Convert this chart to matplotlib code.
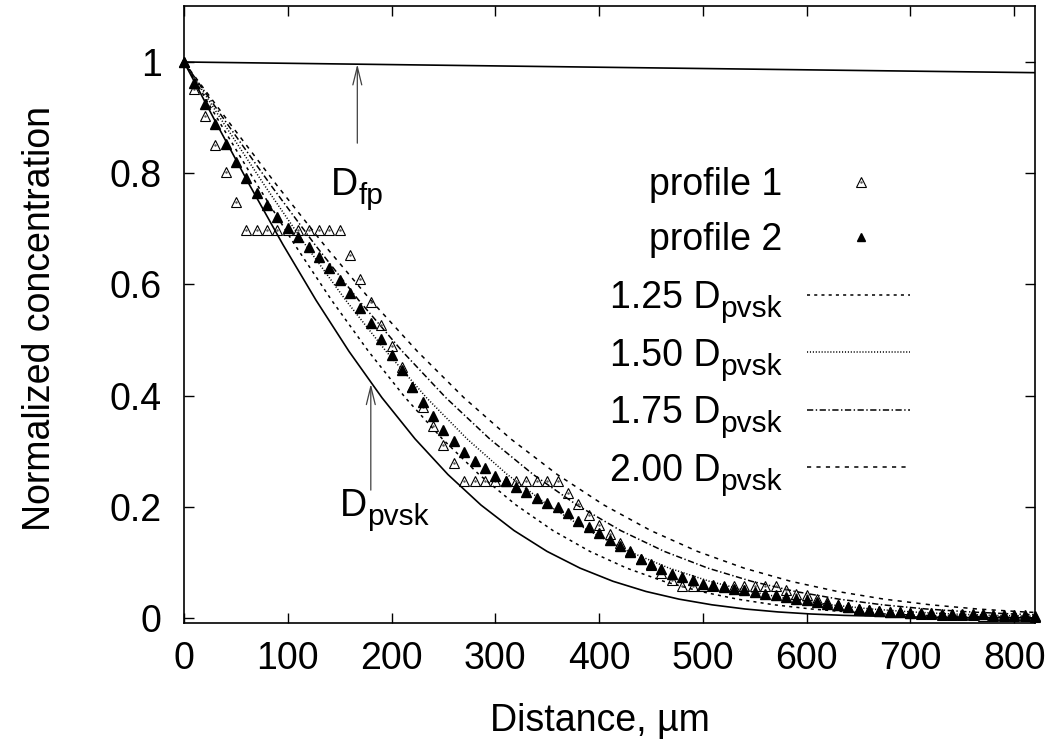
import matplotlib
matplotlib.use("Agg")
import matplotlib.pyplot as plt

plt.rcParams["font.family"] = ["Liberation Sans", "DejaVu Sans"]
plt.rcParams["lines.scale_dashes"] = False

FS = 27
FS_SUB = 21.5

# Measured concentration profiles (depth in µm, normalized concentration)
depth = [0, 10, 20, 30, 40, 50, 60, 70, 80, 90,
         100, 110, 120, 130, 140, 150, 160, 170, 180, 190,
         200, 210, 220, 230, 240, 250, 260, 270, 280, 290,
         300, 310, 320, 330, 340, 350, 360, 370, 380, 390,
         400, 410, 420, 430, 440, 450, 460, 470, 480, 490,
         500, 510, 520, 530, 540, 550, 560, 570, 580, 590,
         600, 610, 620, 630, 640, 650, 660, 670, 680, 690,
         700, 710, 720, 730, 740, 750, 760, 770, 780, 790,
         800, 810, 820]

profile1 = [1.000, 0.951, 0.902, 0.851, 0.802, 0.749, 0.697, 0.697, 0.697, 0.697,
            0.697, 0.697, 0.697, 0.697, 0.697, 0.697, 0.653, 0.610, 0.568, 0.527,
            0.489, 0.452, 0.415, 0.379, 0.345, 0.312, 0.279, 0.246, 0.246, 0.246,
            0.246, 0.246, 0.246, 0.246, 0.246, 0.246, 0.246, 0.225, 0.205, 0.185,
            0.167, 0.151, 0.135, 0.121, 0.107, 0.095, 0.081, 0.068, 0.058, 0.058,
            0.058, 0.058, 0.058, 0.058, 0.058, 0.058, 0.058, 0.058, 0.050, 0.044,
            0.041, 0.034, 0.029, 0.023, 0.020, 0.017, 0.015, 0.013, 0.011, 0.010,
            0.009, 0.008, 0.007, 0.006, 0.006, 0.005, 0.005, 0.004, 0.004, 0.003,
            0.003, 0.003, 0.002]

profile2 = [1.000, 0.962, 0.925, 0.888, 0.853, 0.821, 0.791, 0.764, 0.742, 0.721,
            0.701, 0.685, 0.667, 0.649, 0.630, 0.608, 0.584, 0.558, 0.530, 0.501,
            0.473, 0.446, 0.416, 0.389, 0.363, 0.339, 0.318, 0.299, 0.283, 0.269,
            0.256, 0.246, 0.236, 0.226, 0.216, 0.207, 0.199, 0.188, 0.175, 0.164,
            0.152, 0.140, 0.129, 0.119, 0.107, 0.097, 0.089, 0.080, 0.074, 0.068,
            0.062, 0.059, 0.056, 0.053, 0.050, 0.047, 0.043, 0.041, 0.038, 0.035,
            0.032, 0.029, 0.026, 0.023, 0.020, 0.017, 0.014, 0.012, 0.011, 0.010,
            0.0095, 0.009, 0.0085, 0.008, 0.0075, 0.007, 0.007, 0.0065, 0.006, 0.0055,
            0.005, 0.005, 0.004]

# Model curves: depth (µm) at which each curve reaches the given concentration level
model_levels = [1.0, 0.8875, 0.7773, 0.6714, 0.5716, 0.4795, 0.3961, 0.3222,
                0.2579, 0.2031, 0.1573, 0.1198, 0.0897, 0.0660, 0.0477, 0.0339,
                0.0237, 0.0162, 0.0109, 0.0072, 0.0047, 0.0019, 0.0007, 0.0002]
pvsk_depth = [0, 31.8, 63.6, 95.4, 127.2, 159.0, 190.8, 222.6, 254.4, 286.2, 318.0, 349.8,
              381.6, 413.4, 445.2, 477.0, 508.8, 540.6, 572.4, 604.2, 636.0, 699.6, 763.2, 826.8]
d125_depth = [0, 35.6, 71.1, 106.7, 142.2, 177.8, 213.3, 248.9, 284.4, 320.0, 355.5, 391.1,
              426.6, 462.2, 497.7, 533.3, 568.8, 604.4, 639.9, 675.5, 711.0, 782.1, 853.2, 924.3]
d150_depth = [0, 39.0, 77.9, 116.9, 155.8, 194.8, 233.7, 272.7, 311.6, 350.6, 389.5, 428.5,
              467.4, 506.4, 545.3, 584.3, 623.2, 662.2, 701.1, 740.1, 779.0, 856.9, 934.8, 1012.7]
d175_depth = [0, 42.1, 84.1, 126.2, 168.3, 210.4, 252.4, 294.5, 336.6, 378.6, 420.7, 462.8,
              504.8, 546.9, 589.0, 631.1, 673.1, 715.2, 757.3, 799.3, 841.4, 925.5, 1009.7, 1093.8]
d200_depth = [0, 45.0, 89.9, 134.9, 179.9, 224.9, 269.8, 314.8, 359.8, 404.7, 449.7, 494.7,
              539.6, 584.6, 629.6, 674.6, 719.5, 764.5, 809.5, 854.4, 899.4, 989.3, 1079.3, 1169.2]

# Fast-path diffusion curve (nearly flat)
fp_depth = [0, 200, 400, 600, 820]
fp_conc = [1.0, 0.9953, 0.9906, 0.9859, 0.9808]

x_ticks = [0, 100, 200, 300, 400, 500, 600, 700, 800]
y_ticks = [0, 0.2, 0.4, 0.6, 0.8, 1.0]
y_tick_labels = ["0", "0.2", "0.4", "0.6", "0.8", "1"]

curve_labels = ["1.25 D", "1.50 D", "1.75 D", "2.00 D"]
curve_depths = [d125_depth, d150_depth, d175_depth, d200_depth]
curve_dashes = [(2.2, 3.0), (0.8, 1.3), (4.5, 1.8, 1.0, 1.8), (3.0, 3.8)]

fig = plt.figure(figsize=(10.54, 7.43), dpi=100)
ax = fig.add_axes([184 / 1054, 120 / 743, 851 / 1054, 617 / 743])

LW = 1.1
ax.plot(fp_depth, fp_conc, color="black", lw=1.2)
ax.plot(pvsk_depth, model_levels, color="black", lw=1.2)
for d, dash in zip(curve_depths, curve_dashes):
    ax.plot(d, model_levels, color="black", lw=LW, dashes=dash)

ax.plot(depth, profile1, ls="none", marker="^", ms=7.5, mfc="none", mec="black",
        mew=0.8, clip_on=False)
ax.plot(depth, profile1, ls="none", marker=".", ms=1.6, color="0.35", clip_on=False)
ax.plot(depth, profile2, ls="none", marker="^", ms=7, color="black", clip_on=False)

ax.set_xlim(0, 820)
ax.set_ylim(-0.009, 1.1007)
ax.set_xticks(x_ticks)
ax.set_yticks(y_ticks)
ax.set_yticklabels(y_tick_labels)
ax.tick_params(direction="in", length=7, width=1.0, top=True, right=True, labelsize=FS)
ax.tick_params(axis="y", pad=16)
ax.tick_params(axis="x", pad=13)
for spine in ax.spines.values():
    spine.set_linewidth(1.2)

ax.set_xlabel("Distance, µm", fontsize=FS, va="baseline")
ax.xaxis.set_label_coords(0.4888, -0.175)
ax.set_ylabel("Normalized concentration", fontsize=FS, va="baseline")
ax.yaxis.set_label_coords(-0.1575, 0.494)

# Annotations for the two reference diffusivities
arrow_style = dict(arrowstyle="->,head_length=1.3,head_width=0.32", mutation_scale=10,
                   lw=0.9, color="0.25", shrinkA=0, shrinkB=0)
ax.annotate("", xy=(167, 0.996), xytext=(167, 0.854), arrowprops=arrow_style)
ax.annotate("", xy=(180, 0.421), xytext=(180, 0.230), arrowprops=arrow_style)

sub_drop = 0.016
t_fp = ax.text(141.7, 0.761, "D", fontsize=FS, ha="left", va="baseline")
ax.annotate("fp", xy=(1, 0.761 - sub_drop), xycoords=(t_fp, "data"),
            fontsize=FS_SUB, ha="left", va="baseline")
t_pv = ax.text(149.9, 0.184, "D", fontsize=FS, ha="left", va="baseline")
ax.annotate("pvsk", xy=(1, 0.184 - sub_drop), xycoords=(t_pv, "data"),
            fontsize=FS_SUB, ha="left", va="baseline")

# Key, drawn in axes coordinates
key_text_x = 0.7027
key_line = (0.732, 0.853)
key_mark_x = 0.7955
key_rows = [0.7147, 0.6256, 0.5316, 0.4387, 0.3452, 0.2523]
half_cap = 0.0217
key_drop = 0.0146

ax.text(key_text_x, key_rows[0] - half_cap, "profile 1", transform=ax.transAxes,
        fontsize=FS, ha="right", va="baseline")
ax.plot([key_mark_x], [key_rows[0]], transform=ax.transAxes, ls="none", marker="^",
        ms=6.5, mfc="none", mec="black", mew=0.8, clip_on=False)
ax.plot([key_mark_x], [key_rows[0]], transform=ax.transAxes, ls="none", marker=".",
        ms=1.5, color="0.35", clip_on=False)
ax.text(key_text_x, key_rows[1] - half_cap, "profile 2", transform=ax.transAxes,
        fontsize=FS, ha="right", va="baseline")
ax.plot([key_mark_x], [key_rows[1]], transform=ax.transAxes, ls="none", marker="^",
        ms=6, color="black", clip_on=False)

for lab, dash, yr in zip(curve_labels, curve_dashes, key_rows[2:]):
    sub = ax.text(key_text_x, yr - half_cap - key_drop, "pvsk", transform=ax.transAxes,
                  fontsize=FS_SUB, ha="right", va="baseline")
    ax.annotate(lab, xy=(0, yr - half_cap), xycoords=(sub, ax.transAxes),
                fontsize=FS, ha="right", va="baseline")
    ax.plot(key_line, [yr, yr], transform=ax.transAxes, color="black", lw=LW,
            dashes=dash, clip_on=False)

fig.savefig("out.png", dpi=100)
